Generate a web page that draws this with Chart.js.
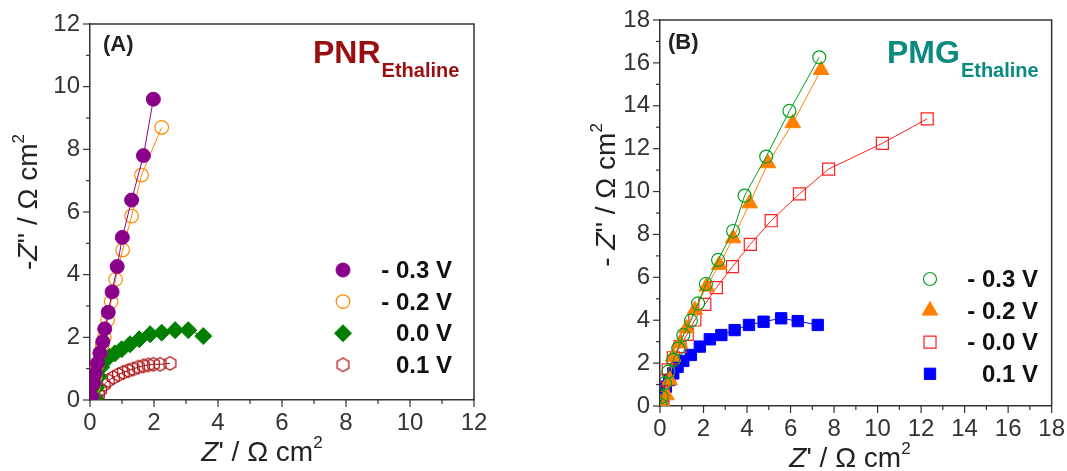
<!DOCTYPE html>
<html>
<head>
<meta charset="utf-8">
<script src="https://cdn.jsdelivr.net/npm/chart.js@4/dist/chart.umd.min.js"></script>
<style>
  html, body { margin: 0; padding: 0; background: #fff; }
  body { width: 1067px; height: 471px; position: relative; overflow: hidden; }
  canvas { position: absolute; top: 0; }
  #cA { left: 0; }
  #cB { left: 540px; }
</style>
</head>
<body>
<canvas id="cA" width="540" height="471"></canvas>
<canvas id="cB" width="527" height="471"></canvas>
<script>
// ---------- Panel A (PNR Ethaline) ----------
const pnrM03X = [0.05, 0.11, 0.16, 0.23, 0.31, 0.40, 0.46, 0.57, 0.69, 0.85, 1.01, 1.30, 1.67, 1.98];
const pnrM03Y = [0.10, 0.53, 0.85, 1.17, 1.50, 1.86, 2.27, 2.80, 3.45, 4.26, 5.19, 6.38, 7.80, 9.60];
const pnrM02X = [0.05, 0.10, 0.16, 0.22, 0.31, 0.38, 0.45, 0.55, 0.66, 0.80, 1.02, 1.30, 1.61, 2.24];
const pnrM02Y = [0.05, 0.40, 0.75, 1.10, 1.50, 1.75, 2.00, 2.55, 3.14, 3.85, 4.79, 5.87, 7.18, 8.70];
const pnr00X = [0.15, 0.20, 0.27, 0.35, 0.47, 0.60, 0.78, 0.99, 1.25, 1.54, 1.88, 2.24, 2.66, 3.07, 3.54];
const pnr00Y = [0.05, 0.40, 0.75, 1.05, 1.28, 1.38, 1.49, 1.62, 1.78, 1.94, 2.10, 2.15, 2.23, 2.23, 2.04];
const pnr01X = [0.21, 0.26, 0.33, 0.44, 0.57, 0.73, 0.89, 1.04, 1.20, 1.35, 1.51, 1.67, 1.82, 1.98, 2.19, 2.50];
const pnr01Y = [0.03, 0.17, 0.33, 0.49, 0.62, 0.72, 0.81, 0.88, 0.94, 0.99, 1.05, 1.09, 1.12, 1.14, 1.14, 1.17];
const legendA = ['- 0.3 V', '- 0.2 V', '0.0 V', '0.1 V'];
const axisA = { xMin: 0, xMax: 12, yMin: 0, yMax: 12, major: 2, minor: 1 };

// ---------- Panel B (PMG Ethaline) ----------
const pmgM03X = [0.03, 0.08, 0.23, 0.38, 0.61, 0.84, 1.07, 1.42, 1.75, 2.11, 2.67, 3.36, 3.89, 4.88, 5.95, 7.32];
const pmgM03Y = [0.05, 0.43, 1.06, 1.60, 2.15, 2.69, 3.31, 3.98, 4.79, 5.69, 6.81, 8.16, 9.81, 11.63, 13.76, 16.26];
const pmgM02X = [0.20, 0.30, 0.45, 0.61, 0.92, 1.22, 1.60, 2.14, 2.72, 3.36, 4.12, 4.96, 6.10, 7.40];
const pmgM02Y = [0.05, 0.50, 1.20, 2.30, 2.92, 3.62, 4.48, 5.57, 6.58, 7.82, 9.45, 11.32, 13.19, 15.67];
const pmg00X = [0.12, 0.15, 0.23, 0.38, 0.61, 0.92, 1.25, 1.60, 2.06, 2.59, 3.33, 4.15, 5.11, 6.41, 7.75, 10.22, 12.28];
const pmg00Y = [0.40, 0.82, 1.21, 1.68, 2.25, 2.77, 3.34, 4.01, 4.74, 5.52, 6.50, 7.54, 8.64, 9.89, 11.05, 12.25, 13.39];
const pmg01X = [0.15, 0.20, 0.27, 0.43, 0.61, 0.81, 1.07, 1.42, 1.83, 2.29, 2.82, 3.43, 4.09, 4.76, 5.57, 6.33, 7.25];
const pmg01Y = [0.12, 0.59, 0.90, 1.21, 1.52, 1.83, 2.10, 2.38, 2.77, 3.11, 3.31, 3.54, 3.78, 3.93, 4.09, 3.96, 3.78];
const legendB = ['- 0.3 V', '- 0.2 V', '- 0.0 V', '0.1 V'];
const axisB = { xMin: 0, xMax: 18, yMin: 0, yMax: 18, major: 2, minor: 1 };

function pts(xs, ys) { return xs.map((x, i) => ({ x: x, y: ys[i] })); }

// open hexagon marker
function hexCanvas(color, r, lw) {
  const s = Math.ceil(2 * r + 2 * lw + 2);
  const c = document.createElement('canvas');
  c.width = s; c.height = s;
  const g = c.getContext('2d');
  g.strokeStyle = color; g.lineWidth = lw;
  g.beginPath();
  for (let k = 0; k < 6; k++) {
    const a = Math.PI / 6 + k * Math.PI / 3;
    const px = s / 2 + r * Math.cos(a), py = s / 2 + r * Math.sin(a);
    if (k === 0) g.moveTo(px, py); else g.lineTo(px, py);
  }
  g.closePath(); g.stroke();
  return c;
}
const hexRed = hexCanvas('#b01818', 6.8, 1.3);

function ds(label, data, color, style, radius, fill, pbw) {
  return {
    label: label, data: data, showLine: true,
    borderColor: color, borderWidth: 1,
    pointStyle: style, pointRadius: radius, pointHoverRadius: radius,
    pointBackgroundColor: fill ? color : 'rgba(0,0,0,0)',
    pointBorderColor: color, pointBorderWidth: pbw
  };
}

const AXC = '#333';
const TICKFONT = { family: 'Liberation Sans, Arial, sans-serif', size: 24 };

function drawRich(ctx, parts, x, y, size, rotate) {
  ctx.save();
  ctx.translate(x, y);
  if (rotate) ctx.rotate(-Math.PI / 2);
  ctx.textBaseline = 'alphabetic';
  const fam = 'Liberation Sans, Arial, sans-serif';
  const fontOf = p => (p.italic ? 'italic ' : '') + (p.bold ? 'bold ' : '') + Math.round(p.sup ? size * 0.62 : size) + 'px ' + fam;
  let total = 0;
  parts.forEach(p => { ctx.font = fontOf(p); total += ctx.measureText(p.t).width; });
  let cx = -total / 2;
  ctx.fillStyle = '#222';
  parts.forEach(p => {
    ctx.font = fontOf(p);
    ctx.fillText(p.t, cx, p.sup ? -size * 0.45 : 0);
    cx += ctx.measureText(p.t).width;
  });
  ctx.restore();
}

function makePlugin(cfg) {
  return {
    id: 'deco',
    afterDraw(chart) {
      const ctx = chart.ctx, a = chart.chartArea;
      const xs = chart.scales.x, ys = chart.scales.y;
      ctx.save();
      // frame (top and right)
      ctx.strokeStyle = AXC; ctx.lineWidth = 1.5;
      ctx.beginPath();
      ctx.moveTo(a.left, a.top); ctx.lineTo(a.right, a.top); ctx.lineTo(a.right, a.bottom);
      ctx.stroke();
      // tick marks
      ctx.lineWidth = 1.2;
      const ax = cfg.axis;
      for (let v = ax.xMin; v <= ax.xMax + 1e-9; v += ax.minor) {
        const px = xs.getPixelForValue(v);
        const len = (Math.round(v / ax.minor) % 2 === 0) ? 7 : 4;
        ctx.beginPath(); ctx.moveTo(px, a.bottom); ctx.lineTo(px, a.bottom + len); ctx.stroke();
      }
      for (let v = ax.yMin; v <= ax.yMax + 1e-9; v += ax.minor) {
        const py = ys.getPixelForValue(v);
        const len = (Math.round(v / ax.minor) % 2 === 0) ? 7 : 4;
        ctx.beginPath(); ctx.moveTo(a.left, py); ctx.lineTo(a.left - len, py); ctx.stroke();
      }
      // axis titles
      drawRich(ctx, cfg.xTitle, cfg.xTitlePos[0], cfg.xTitlePos[1], 28, false);
      drawRich(ctx, cfg.yTitle, cfg.yTitlePos[0], cfg.yTitlePos[1], 28, true);
      // panel letter
      ctx.fillStyle = '#222';
      ctx.font = 'bold 22px Liberation Sans, Arial, sans-serif';
      ctx.textAlign = 'left'; ctx.textBaseline = 'alphabetic';
      ctx.fillText(cfg.letter, cfg.letterPos[0], cfg.letterPos[1]);
      // sample name with subscript
      ctx.fillStyle = cfg.nameColor;
      ctx.font = 'bold 32px Liberation Sans, Arial, sans-serif';
      ctx.fillText(cfg.name, cfg.namePos[0], cfg.namePos[1]);
      const w = ctx.measureText(cfg.name).width;
      ctx.font = 'bold 20px Liberation Sans, Arial, sans-serif';
      ctx.fillText('Ethaline', cfg.namePos[0] + w + 1, cfg.namePos[1] + 14);
      // legend
      chart.data.datasets.forEach((d, i) => {
        const lx = cfg.legX, ly = cfg.legY + i * cfg.legDY;
        ctx.save();
        ctx.fillStyle = d.pointBackgroundColor;
        ctx.strokeStyle = d.pointBorderColor;
        ctx.lineWidth = d.pointBorderWidth;
        Chart.helpers.drawPoint(ctx, { pointStyle: d.pointStyle, radius: d.pointRadius, rotation: 0, borderWidth: d.pointBorderWidth }, lx, ly);
        ctx.restore();
        ctx.fillStyle = '#111';
        ctx.font = 'bold 24px Liberation Sans, Arial, sans-serif';
        ctx.textAlign = 'right';
        ctx.fillText(cfg.legend[i], cfg.legTextRight, ly + 8);
      });
      ctx.restore();
    }
  };
}

function makeChart(id, datasets, axis, pad, yW, xH, plugin) {
  return new Chart(document.getElementById(id), {
    type: 'scatter',
    data: { datasets: datasets },
    options: {
      responsive: false, animation: false, devicePixelRatio: 1,
      layout: { padding: pad },
      plugins: { legend: { display: false }, tooltip: { enabled: false } },
      scales: {
        x: {
          type: 'linear', min: axis.xMin, max: axis.xMax,
          ticks: { stepSize: axis.major, font: TICKFONT, color: AXC, padding: 2, maxRotation: 0 },
          grid: { display: true, drawOnChartArea: false, drawTicks: true, tickLength: 7, color: 'rgba(0,0,0,0)' },
          border: { display: true, color: AXC, width: 1.5 },
          afterFit: s => { s.height = xH; }
        },
        y: {
          type: 'linear', min: axis.yMin, max: axis.yMax,
          ticks: { stepSize: axis.major, font: TICKFONT, color: AXC, padding: 3 },
          grid: { display: true, drawOnChartArea: false, drawTicks: true, tickLength: 7, color: 'rgba(0,0,0,0)' },
          border: { display: true, color: AXC, width: 1.5 },
          afterFit: s => { s.width = yW; }
        }
      }
    },
    plugins: [plugin]
  });
}

const dsA = [
  ds('- 0.3 V', pts(pnrM03X, pnrM03Y), '#8b008b', 'circle', 7, true, 1),
  ds('- 0.2 V', pts(pnrM02X, pnrM02Y), '#ff8c00', 'circle', 6.8, false, 1.2),
  ds('0.0 V', pts(pnr00X, pnr00Y), '#007f00', 'rectRot', 8.5, true, 1),
  ds('0.1 V', pts(pnr01X, pnr01Y), '#a01010', hexRed, 6.8, false, 1.2)
];
const dsB = [
  ds('- 0.3 V', pts(pmgM03X, pmgM03Y), '#00a020', 'circle', 6.5, false, 1.2),
  ds('- 0.2 V', pts(pmgM02X, pmgM02Y), '#ff8000', 'triangle', 9, true, 1),
  ds('- 0.0 V', pts(pmg00X, pmg00Y), '#ff2020', 'rect', 8.5, false, 1.2),
  ds('0.1 V', pts(pmg01X, pmg01Y), '#0000ff', 'rect', 8, true, 1)
];

makeChart('cA', dsA, axisA, { left: 0, right: 66, top: 24, bottom: 0 }, 90, 71, makePlugin({
  axis: axisA,
  xTitle: [{ t: 'Z', italic: true }, { t: "' / Ω cm" }, { t: '2', sup: true }],
  xTitlePos: [262, 461],
  yTitle: [{ t: '-' }, { t: 'Z', italic: true }, { t: "'' / Ω cm" }, { t: '2', sup: true }],
  yTitlePos: [37, 202],
  letter: '(A)', letterPos: [103, 51],
  name: 'PNR', nameColor: '#990f0f', namePos: [313, 63],
  legend: legendA, legX: 343, legY: 270, legDY: 31.6, legTextRight: 452
}));

makeChart('cB', dsB, axisB, { left: 0, right: 14, top: 20, bottom: 0 }, 120, 65, makePlugin({
  axis: axisB,
  xTitle: [{ t: 'Z', italic: true }, { t: "' / Ω cm" }, { t: '2', sup: true }],
  xTitlePos: [310, 467],
  yTitle: [{ t: '- ' }, { t: 'Z', italic: true }, { t: "'' / Ω cm" }, { t: '2', sup: true }],
  yTitlePos: [75, 195],
  letter: '(B)', letterPos: [128, 49],
  name: 'PMG', nameColor: '#0a8a80', namePos: [347, 63],
  legend: legendB, legX: 390, legY: 279, legDY: 31.6, legTextRight: 498
}));
</script>
</body>
</html>
